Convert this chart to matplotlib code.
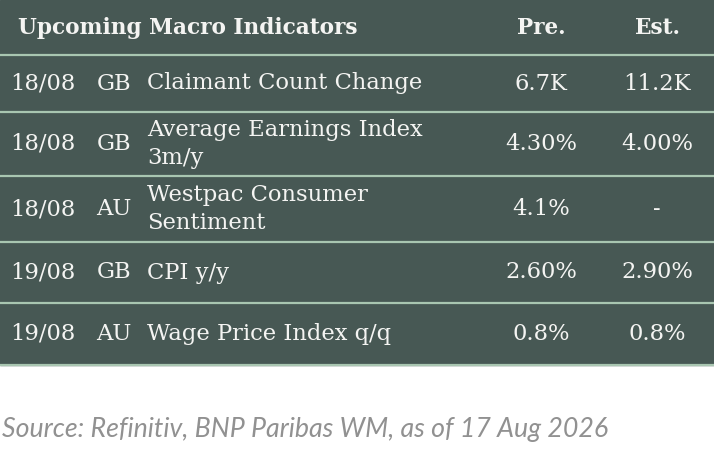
import matplotlib.pyplot as plt
from matplotlib.patches import Rectangle

# table content
title = "Upcoming Macro Indicators"
col_heads = ["Pre.", "Est."]
dates = ["18/08", "18/08", "18/08", "19/08", "19/08"]
countries = ["GB", "GB", "AU", "GB", "AU"]
indicators = ["Claimant Count Change", "Average Earnings Index\n3m/y",
              "Westpac Consumer\nSentiment", "CPI y/y", "Wage Price Index q/q"]
pre = ["6.7K", "4.30%", "4.1%", "2.60%", "0.8%"]
est = ["11.2K", "4.00%", "-", "2.90%", "0.8%"]
source = "Source: Refinitiv, BNP Paribas WM, as of 17 Aug 2026"

W, H = 714, 453
bg = "#475854"
line_c = "#a9c6b1"
txt_c = "#f4f4f2"
serif = ["DejaVu Serif", "Liberation Serif"]

fig = plt.figure(figsize=(W / 100, H / 100), dpi=100)
ax = fig.add_axes([0, 0, 1, 1])
ax.set_xlim(0, W)
ax.set_ylim(H, 0)
ax.axis("off")

# row boundaries (pixels from top)
bounds = [0, 55, 112, 176, 242, 303, 365]

ax.add_patch(Rectangle((0, 0), W, bounds[-1], color=bg, zorder=0))
for b in bounds[1:]:
    ax.plot([0, W], [b, b], color=line_c, lw=1.6, zorder=1, solid_capstyle="butt")

fs = 16.3
hfs = 15.6
ax.text(18, 28, title, color=txt_c, fontsize=hfs, fontweight="bold",
        family=serif, va="center", ha="left")
ax.text(541, 28, col_heads[0], color=txt_c, fontsize=hfs, fontweight="bold",
        family=serif, va="center", ha="center")
ax.text(657, 28, col_heads[1], color=txt_c, fontsize=hfs, fontweight="bold",
        family=serif, va="center", ha="center")

for i in range(len(dates)):
    yc = (bounds[i + 1] + bounds[i + 2]) / 2
    ax.text(10, yc, dates[i], color=txt_c, fontsize=fs, family=serif, va="center", ha="left")
    ax.text(114, yc, countries[i], color=txt_c, fontsize=fs, family=serif, va="center", ha="center")
    ax.text(147, yc, indicators[i], color=txt_c, fontsize=fs, family=serif, va="center",
            ha="left", linespacing=1.3)
    ax.text(541, yc, pre[i], color=txt_c, fontsize=fs, family=serif, va="center", ha="center")
    ax.text(657, yc, est[i], color=txt_c, fontsize=fs, family=serif, va="center", ha="center")

ax.text(2, 429, source, color="#919191", fontsize=19.3, family="Lato", style="italic",
        va="center", ha="left")

fig.savefig("out.png", dpi=100)
